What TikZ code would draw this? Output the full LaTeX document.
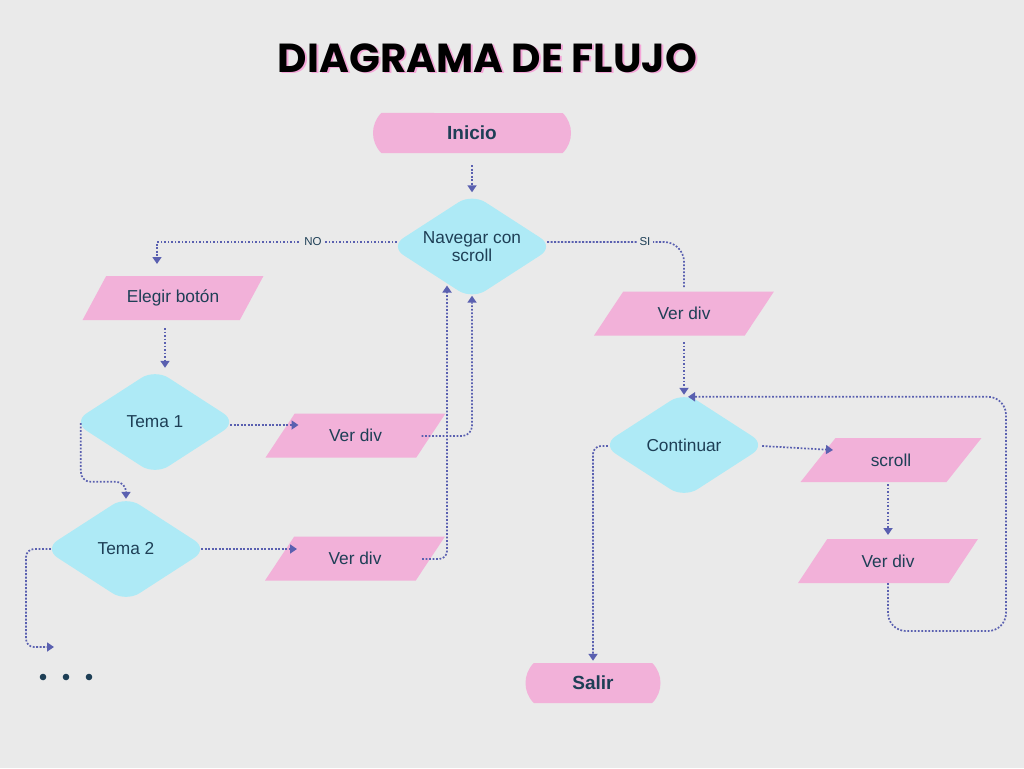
\documentclass[tikz,border=0pt]{standalone}
\usepackage{fontspec}
\setmainfont{Liberation Sans}
\newfontfamily\titlefont{Poppins}
\usetikzlibrary{shapes.geometric,shapes.misc,arrows.meta,calc}
\definecolor{bg}{HTML}{EAEAEA}
\definecolor{pinkbox}{HTML}{F2B1D9}
\definecolor{cyanbox}{HTML}{AEEAF6}
\definecolor{txt}{HTML}{1E3F56}
\definecolor{linec}{HTML}{5A60B0}
\definecolor{shadowpink}{HTML}{F4A6D8}
\tikzset{
  term/.style={shape=rounded rectangle, rounded rectangle arc length=90, fill=pinkbox,
    minimum height=40pt, inner sep=0pt, text=txt, font=\bfseries\fontsize{19}{22}\selectfont},
  dec/.style={shape=diamond, fill=cyanbox, minimum width=164pt, minimum height=106pt,
    rounded corners=16pt, inner sep=0pt, aspect=1.5, align=center, text=txt,
    font=\fontsize{17.3}{17.5}\selectfont},
  io/.style={shape=trapezium, trapezium left angle=45, trapezium right angle=135,
    trapezium stretches=true, minimum width=181pt, minimum height=44pt, fill=pinkbox,
    inner sep=0pt, text=txt, font=\fontsize{17.3}{19}\selectfont},
  conn/.style={draw=linec, line width=1.7pt, dash pattern=on 1.8pt off 1.7pt},
  arr/.style={conn, -{Triangle[width=9pt,length=7pt]}},
  lbl/.style={fill=bg, inner sep=3pt, text=txt, font=\fontsize{11.5}{13}\selectfont},
  ttl/.style={anchor=base, inner sep=0pt, font=\titlefont\bfseries\fontsize{40.5}{42}\selectfont}
}
\begin{document}
\begin{tikzpicture}[x=1pt,y=-1pt]
\fill[bg] (0,0) rectangle (1024,768);
\useasboundingbox (0,0) rectangle (1024,768);

% title
\node[ttl, text=shadowpink] (titleshadow) at (489.5,73.5) {DIAGRAMA DE FLUJO};
\node[ttl, text=black] (title) at (487.5,72) {DIAGRAMA DE FLUJO};

% nodes
\node[term, minimum width=198pt] (inicio) at (472,133) {Inicio};
\node[dec] (nav) at (472,246.5) {Navegar con\\scroll};
\node[io] (elegir) at (173,298) {Elegir botón};
\node[dec] (t1) at (155,422) {Tema 1};
\node[io] (v1) at (355.5,435.5) {Ver div};
\node[dec] (t2) at (126,549) {Tema 2};
\node[io] (v2) at (355,558.5) {Ver div};
\node[io] (vsi) at (684,313.5) {Ver div};
\node[dec] (cont) at (684,445) {Continuar};
\node[io] (scr) at (891,460) {scroll};
\node[io] (v3) at (888,561) {Ver div};
\node[term, minimum width=135pt] (salir) at (593,683) {Salir};
\coordinate (dots) at (66,677);
\fill[txt] ($(dots)+(-23,0)$) circle[radius=3.3pt];
\fill[txt] (dots) circle[radius=3.3pt];
\fill[txt] ($(dots)+(23,0)$) circle[radius=3.3pt];

% connectors
\draw[arr] ($(inicio.south)+(0,12)$) -- ($(nav.north)+(0,-1)$);
\draw[arr] ($(nav.west)+(7,-4.5)$) -| ($(elegir.center)+(-16,-34)$);
\node[lbl] (no) at (313,242) {NO};
\draw[arr] ($(elegir.center)+(-8,30)$) -- ($(t1.north)+(10,-1)$);
\draw[arr] ($(t1.east)+(-7,3)$) -- ($(v1.center)+(-57,-10.5)$);
\draw[arr, rounded corners=10pt] ($(v1.center)+(66,0.5)$) -| ($(nav.south)+(0,-4)$);
\draw[arr, rounded corners=8pt] ($(v2.center)+(67,0.5)$) -| ($(nav.center)+(-25,39)$);
\draw[arr, rounded corners=10pt] ($(t1.west)+(8,1)$) |- ($(t2.north)+(0,-14)$) -- ($(t2.north)+(0,3)$);
\draw[arr] ($(t2.east)+(-7,0)$) -- ($(v2.center)+(-58,-9.5)$);
\draw[arr, rounded corners=8pt] ($(t2.west)+(7,0)$) -| ($(dots)+(-40,-30)$) -- ($(dots)+(-12,-30)$);
\draw[conn, rounded corners=20pt] ($(nav.east)+(-7,-4.5)$) -| ($(vsi.center)+(0,-25)$);
\node[lbl] (si) at (645,242) {SI};
\draw[arr] ($(vsi.center)+(0,28.5)$) -- ($(cont.north)+(0,3)$);
\draw[arr] ($(cont.east)+(-4,1)$) -- ($(scr.center)+(-58,-10)$);
\draw[arr] ($(scr.center)+(-3,24)$) -- ($(v3.center)+(0,-26)$);
\draw[arr, rounded corners=18pt] ($(v3.center)+(0,22)$) |- ($(v3.center)+(118,70)$) |- ($(cont.north)+(4,5)$);
\draw[arr, rounded corners=8pt] ($(cont.west)+(6,1)$) -| ($(salir.north)+(0,-2)$);
\end{tikzpicture}
\end{document}
